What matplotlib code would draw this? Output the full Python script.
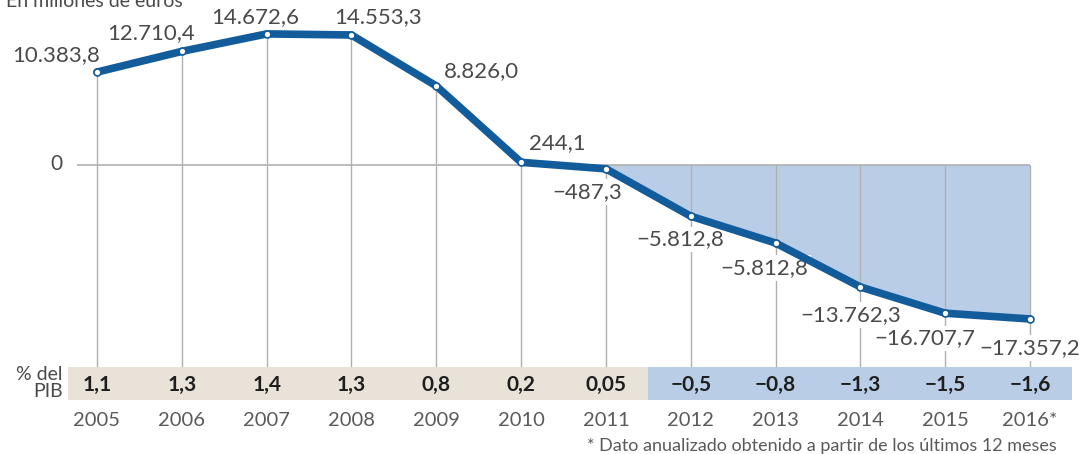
import matplotlib
matplotlib.use("Agg")
import matplotlib.pyplot as plt
import numpy as np

plt.rcParams["font.family"] = ["Lato", "DejaVu Sans"]

# datos
years = ["2005", "2006", "2007", "2008", "2009", "2010",
         "2011", "2012", "2013", "2014", "2015", "2016*"]
balance = [10383.8, 12710.4, 14672.6, 14553.3, 8826.0, 244.1,
           -487.3, -5812.8, -8820.0, -13762.3, -16707.7, -17357.2]
balance_labels = ["10.383,8", "12.710,4", "14.672,6", "14.553,3", "8.826,0", "244,1",
                  "\u2212487,3", "\u22125.812,8", "\u22125.812,8", "\u221213.762,3",
                  "\u221216.707,7", "\u221217.357,2"]
pib = ["1,1", "1,3", "1,4", "1,3", "0,8", "0,2", "0,05",
       "\u22120,5", "\u22120,8", "\u22121,3", "\u22121,5", "\u22121,6"]

# label offsets in pixels (dx, dy) from each point
label_offsets = [(-41, 17), (-31, 18), (-11, 17), (27, 18), (45, 15), (36, 19),
                 (-19, -23), (-10, -23), (-11, -25), (-10, -28), (-20, -25), (0, -29)]

W, H = 1079, 454
x0_px, step_px = 97, 84.82      # pixel x of first year, spacing
zero_px, scale = 164.5, 0.0089  # pixel y of zero, px per million

LINE = "#135c9c"
FILL = "#bacde6"
BEIGE = "#e9e2d9"
GRID = "#b0b0b0"
TXT = "#4a4a4a"

fig = plt.figure(figsize=(W / 100, H / 100), dpi=100)
ax = fig.add_axes([0, 0, 1, 1])
ax.set_xlim(-x0_px / step_px, (W - x0_px) / step_px)
ax.set_ylim(-(H - zero_px) / scale, zero_px / scale)
ax.axis("off")

x = np.arange(len(years))
vals = np.array(balance)
band_top = 1 - 367 / H
band_bot = 1 - 400 / H
trans = ax.get_xaxis_transform()

# vertical guides from point (or zero) down to band
y_top = np.maximum(vals, 0)
y_band = ax.get_ylim()[0] + band_top * (ax.get_ylim()[1] - ax.get_ylim()[0])
ax.vlines(x, y_band, y_top, color=GRID, lw=1.0, zorder=1)

# zero line
ax.hlines(0, (77 - x0_px) / step_px, x[-1], color=GRID, lw=1.2, zorder=1)
ax.text((56 - x0_px) / step_px, 0, "0", ha="center", va="center",
        fontsize=15, color=TXT)

# negative area
neg = x >= 6
ax.fill_between(x[neg], vals[neg], 0, color=FILL, lw=0, zorder=0.5)

# main line
ax.plot(x, vals, color=LINE, lw=5.5, solid_capstyle="round", zorder=3)
ax.plot(x, vals, "o", ms=5, mfc="white", mec=LINE, mew=1.2, zorder=4)

for xi, v, lab, (dx, dy) in zip(x, vals, balance_labels, label_offsets):
    ax.annotate(lab, (xi, v), xytext=(dx, dy), textcoords="offset pixels",
                ha="center", va="center", fontsize=16, color=TXT, zorder=2,
                bbox=dict(boxstyle="square,pad=0.12", fc="white", ec="none"))

# % del PIB band
ax.fill_between([-0.342, 6.5], band_bot, band_top, color=BEIGE, lw=0,
                transform=trans, zorder=1)
ax.fill_between([6.5, 11.49], band_bot, band_top, color=FILL, lw=0,
                transform=trans, zorder=1)
for xi, p in zip(x, pib):
    ax.text(xi, 1 - 385 / H, p, transform=trans, ha="center", va="center",
            fontsize=15, fontweight="bold", color="#1e1e1e")
fig.text(63 / W, 1 - 383 / H, "% del\nPIB", ha="right", va="center",
         fontsize=14, color=TXT, linespacing=1.05)

for xi, yr in zip(x, years):
    ax.text(xi, 1 - 420 / H, yr, transform=trans, ha="center", va="center",
            fontsize=14.5, color="#5a5a5a")

fig.text(1057 / W, 1 - 446 / H,
         "* Dato anualizado obtenido a partir de los \u00faltimos 12 meses",
         ha="right", va="center", fontsize=13, color="#5a5a5a")

fig.text(6 / W, 1 - 7 / H, "En millones de euros", ha="left", va="baseline",
         fontsize=14, color=TXT)

fig.savefig("out.png", dpi=100)
